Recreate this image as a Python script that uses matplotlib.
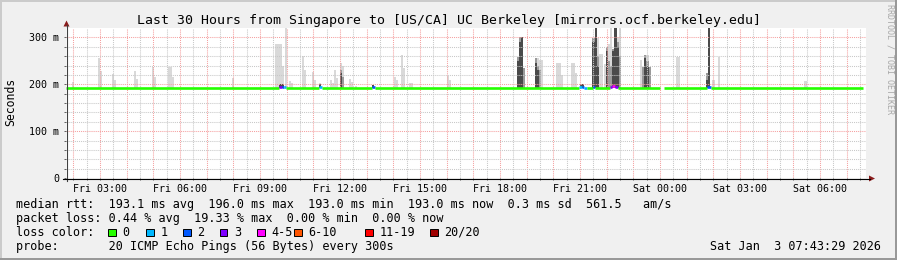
import matplotlib
matplotlib.use("Agg")
import matplotlib.pyplot as plt
from matplotlib.patches import Polygon, Rectangle
from matplotlib.lines import Line2D
from matplotlib.ticker import FixedLocator, FixedFormatter

plt.rcParams['font.family'] = ['DejaVu Sans Mono']

# ---------------- data ----------------
title = "Last 30 Hours from Singapore to [US/CA] UC Berkeley [mirrors.ocf.berkeley.edu]"
t_start = 1 + 43 / 60 + 29 / 3600          # Fri 01:43:29 (hours since Fri 00:00)
t_end = 31 + 43 / 60 + 29 / 3600           # Sat 07:43:29

x_tick_hours = [3, 6, 9, 12, 15, 18, 21, 24, 27, 30]
x_tick_labels = ["Fri 03:00", "Fri 06:00", "Fri 09:00", "Fri 12:00", "Fri 15:00",
                 "Fri 18:00", "Fri 21:00", "Sat 00:00", "Sat 03:00", "Sat 06:00"]
y_ticks = [0, 100, 200, 300]
y_tick_labels = ["0", "100 m", "200 m", "300 m"]
y_max = 320

# smoke (ms): time slot (h), top of light / mid / dark band (0 = none)
smoke_t = [1.98, 2.95, 3.03, 3.48, 3.55, 4.30, 4.38, 4.98, 5.05, 5.58, 5.67, 5.75,
           7.98, 9.60, 9.68, 9.77, 9.85, 9.97, 10.12, 10.20, 10.60, 10.68, 10.98, 11.05,
           11.24, 11.65, 11.73, 11.80, 11.88, 12.03, 12.10, 12.37, 12.44, 12.59, 13.23,
           14.05, 14.13, 14.32, 14.39, 14.62, 14.69, 16.04, 16.11,
           18.67, 18.74, 18.82, 18.89, 19.34, 19.42, 19.49, 19.57,
           20.16, 20.24, 20.31, 20.69, 20.76, 20.84, 21.05, 21.12,
           21.51, 21.59, 21.66, 21.74, 21.82, 21.93, 22.00, 22.08, 22.17, 22.25,
           22.33, 22.42, 22.50, 23.28, 23.37, 23.45, 23.53, 23.61,
           24.63, 24.71, 25.75, 25.83, 26.01, 26.20, 29.46]
smoke_light = [205, 256, 228, 221, 209, 228, 211, 236, 215, 236, 236, 215,
               213, 285, 285, 285, 240, 330, 206, 203, 260, 230, 226, 209,
               202, 209, 203, 230, 213, 245, 240, 211, 204, 197, 0,
               216, 209, 262, 234, 202, 202, 218, 209,
               258, 300, 300, 234, 255, 255, 251, 251,
               245, 245, 220, 245, 245, 223, 0, 0,
               298, 330, 298, 264, 264, 243, 280, 285, 330, 275,
               330, 300, 330, 251, 237, 262, 262, 237,
               258, 258, 225, 330, 210, 258, 207]
smoke_mid = [0, 0, 0, 0, 0, 0, 0, 0, 0, 0, 0, 0,
             0, 0, 0, 0, 0, 0, 0, 0, 0, 0, 0, 0,
             0, 0, 0, 0, 0, 230, 215, 0, 0, 0, 0,
             0, 0, 0, 0, 0, 0, 0, 0,
             258, 300, 300, 234, 255, 240, 230, 0,
             0, 0, 0, 0, 0, 0, 0, 0,
             298, 330, 260, 0, 0, 0, 280, 250, 240, 275,
             330, 290, 260, 0, 237, 262, 250, 237,
             0, 0, 225, 330, 0, 0, 0]
smoke_dark = [0, 0, 0, 0, 0, 0, 0, 0, 0, 0, 0, 0,
              0, 0, 0, 200, 200, 0, 0, 0, 0, 0, 0, 0,
              200, 0, 0, 0, 0, 223, 0, 0, 0, 0, 198,
              0, 0, 0, 0, 0, 0, 0, 0,
              250, 290, 300, 0, 245, 230, 0, 0,
              0, 0, 0, 0, 0, 0, 200, 200,
              290, 330, 240, 0, 0, 0, 270, 0, 0, 270,
              330, 280, 0, 0, 0, 255, 240, 0,
              0, 0, 210, 330, 0, 0, 0]

# median rtt segments: start (h), end (h), rtt (ms), lost pings of 20
med_start = [t_start, 9.73, 9.81, 9.89, 9.97, 11.20, 11.32, 13.19, 13.30,
             20.98, 21.06, 21.16, 21.27, 21.47, 21.55, 22.12, 22.20, 22.32, 22.44, 24.14,
             25.78, 25.90]
med_end = [9.73, 9.81, 9.89, 9.97, 11.20, 11.32, 13.19, 13.30, 20.98,
           21.06, 21.16, 21.27, 21.47, 21.55, 22.12, 22.20, 22.32, 22.44, 23.99, 25.78,
           25.90, 31.62]
med_rtt = [193, 195, 194, 194, 193, 194, 193, 194, 193,
           194, 194, 193, 193, 194, 193, 195, 196, 195, 193, 193,
           194, 193]
med_loss = [0, 3, 2, 1, 0, 1, 0, 2, 0,
            1, 2, 1, 0, 2, 0, 3, 4, 3, 0, 0,
            2, 0]

loss_labels = ["0", "1", "2", "3", "4-5", "6-10", "11-19", "20/20"]
loss_colors = ["#26ff00", "#00b8ff", "#0059ff", "#7e00ff", "#ff00ff", "#ff5500", "#ff0000", "#a00000"]
loss_upper = [0, 1, 2, 3, 5, 10, 19, 20]

rtt_line = "median rtt:  193.1 ms avg  196.0 ms max  193.0 ms min  193.0 ms now  0.3 ms sd  561.5   am/s"
loss_line = "packet loss: 0.44 % avg  19.33 % max  0.00 % min  0.00 % now"
probe_line = "probe:       20 ICMP Echo Pings (56 Bytes) every 300s"
stamp_text = "Sat Jan  3 07:43:29 2026"

# ---------------- layout ----------------
W, H = 897, 260
fig = plt.figure(figsize=(W / 100, H / 100), dpi=100)
fig.patch.set_facecolor("#f0f0f0")


def fx(px):
    return px / W


def fy(py):
    return 1 - py / H


# frame shading
fig.patches.append(Rectangle((0, fy(2)), 1, 2 / H, transform=fig.transFigure, color="#cbcbcb", lw=0))
fig.patches.append(Rectangle((0, 0), 2 / W, 1, transform=fig.transFigure, color="#cbcbcb", lw=0))
fig.patches.append(Rectangle((0, 0), 1, 2 / H, transform=fig.transFigure, color="#999999", lw=0))
fig.patches.append(Rectangle((fx(W - 2), 0), 2 / W, 1, transform=fig.transFigure, color="#999999", lw=0))

ax = fig.add_axes([fx(66), fy(178), 800 / W, 150 / H])
ax.set_facecolor("white")
ax.set_xlim(t_start, t_end)
ax.set_ylim(0, y_max)
for s in ax.spines.values():
    s.set_visible(False)

base = 193
w = 5 / 60
for vals, col in ((smoke_light, "#d9d9d9"), (smoke_mid, "#9a9a9a"), (smoke_dark, "#4a4a4a")):
    hts = [max(v - base, 0) if v else 0 for v in vals]
    ax.bar(smoke_t, hts, bottom=base, width=w, color=col, linewidth=0, zorder=1)


def loss_index(n):
    for i, u in enumerate(loss_upper):
        if n <= u:
            return i
    return len(loss_upper) - 1


for s0, s1, r, n in zip(med_start, med_end, med_rtt, med_loss):
    ax.hlines(r, s0, s1, colors=loss_colors[loss_index(n)], linewidth=1.9, zorder=4)

# grid
major_x = list(range(2, 32))
minor_x = [h + 0.5 for h in range(1, 32)]
ax.xaxis.set_major_locator(FixedLocator(major_x))
ax.xaxis.set_minor_locator(FixedLocator(minor_x))
lab = dict(zip(x_tick_hours, x_tick_labels))
ax.xaxis.set_major_formatter(FixedFormatter([lab.get(h, "") for h in major_x]))
ax.yaxis.set_major_locator(FixedLocator(y_ticks))
ax.yaxis.set_major_formatter(FixedFormatter(y_tick_labels))
ax.yaxis.set_minor_locator(FixedLocator([v for v in range(20, y_max, 20) if v % 100]))
ax.set_axisbelow(False)
ax.grid(which="major", color="#f5a0a0", linestyle=(0, (1, 1)), linewidth=0.75)
ax.grid(which="minor", color="#c8c8c8", linestyle=(0, (1, 1)), linewidth=0.75)
ax.tick_params(which="both", length=1.5, width=0.7, color="#606060", labelsize=7.2,
               direction="out")
ax.tick_params(axis="x", pad=2.5)
ax.tick_params(axis="y", pad=3.5)

# axes lines and arrows
fig.lines.append(Line2D([fx(66.5), fx(66.5)], [fy(181), fy(25)], transform=fig.transFigure,
                        color="#404040", lw=0.8))
fig.lines.append(Line2D([fx(63), fx(870)], [fy(178.5), fy(178.5)], transform=fig.transFigure,
                        color="black", lw=0.8))
fig.patches.append(Polygon([(fx(63.5), fy(26.5)), (fx(69.5), fy(26.5)), (fx(66.5), fy(20.5))],
                           closed=True, transform=fig.transFigure, color="#8a1c1c", lw=0))
fig.patches.append(Polygon([(fx(869), fy(175.5)), (fx(869), fy(181.5)), (fx(875), fy(178.5))],
                           closed=True, transform=fig.transFigure, color="#8a1c1c", lw=0))

# texts
fig.text(fx(448.5), fy(24), title, ha="center", va="baseline", fontsize=9.5)
fig.text(fx(10.5), fy(102), "Seconds", rotation=90, ha="center", va="center", fontsize=8.3)
fig.text(fx(889.5), fy(4), "RRDTOOL / TOBI OETIKER", rotation=270, ha="center", va="top",
         fontsize=6, color="#a8a8a8")

fs = 8.5
fig.text(fx(16), fy(207.7), rtt_line, ha="left", va="baseline", fontsize=fs)
fig.text(fx(16), fy(221.7), loss_line, ha="left", va="baseline", fontsize=fs)
fig.text(fx(16), fy(235.7), "loss color:", ha="left", va="baseline", fontsize=fs)
box_x = [108, 146, 183, 219.5, 257, 294, 365, 430]
for bx, lbl, col in zip(box_x, loss_labels, loss_colors):
    fig.patches.append(Rectangle((fx(bx), fy(236)), 7.5 / W, 7.5 / H, transform=fig.transFigure,
                                 facecolor=col, edgecolor="black", lw=0.7))
    fig.text(fx(bx + 14.5), fy(235.7), lbl, ha="left", va="baseline", fontsize=fs)
fig.text(fx(16), fy(249.7), probe_line, ha="left", va="baseline", fontsize=fs)
fig.text(fx(881), fy(249.7), stamp_text, ha="right", va="baseline", fontsize=fs)

fig.savefig("out.png", dpi=100, facecolor=fig.get_facecolor())
